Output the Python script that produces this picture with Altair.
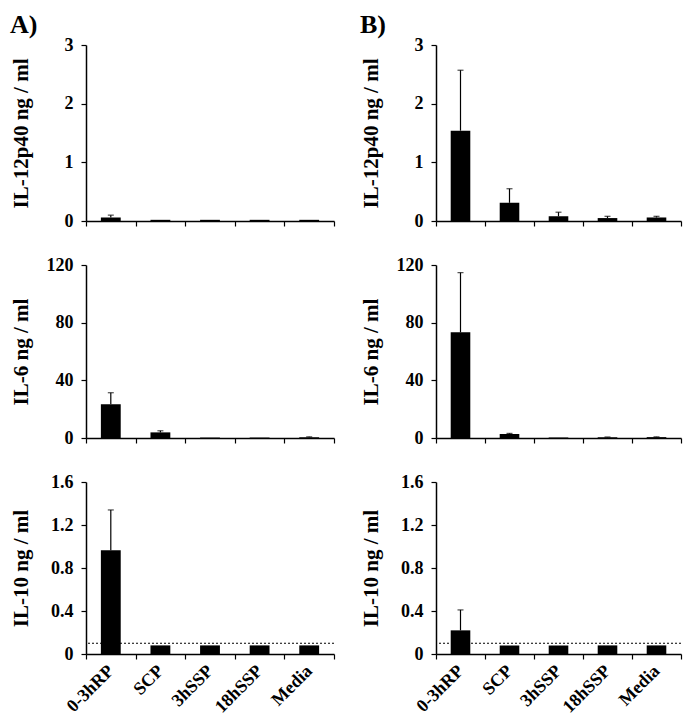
import altair as alt
import pandas as pd

categories = ["0-3hRP", "SCP", "3hSSP", "18hSSP", "Media"]

a_il12_mean = [0.06, 0.02, 0.02, 0.02, 0.02]
a_il12_err = [0.04, 0, 0, 0, 0]
b_il12_mean = [1.54, 0.31, 0.08, 0.05, 0.06]
b_il12_err = [1.03, 0.24, 0.07, 0.03, 0.02]

a_il6_mean = [23.4, 3.9, 0.3, 0.3, 0.5]
a_il6_err = [8.0, 1.1, 0, 0, 0.3]
b_il6_mean = [73.3, 2.8, 0.3, 0.5, 0.6]
b_il6_err = [41.4, 0.4, 0, 0.2, 0.2]

a_il10_mean = [0.965, 0.08, 0.08, 0.08, 0.08]
a_il10_err = [0.375, 0, 0, 0, 0]
b_il10_mean = [0.22, 0.08, 0.08, 0.08, 0.08]
b_il10_err = [0.19, 0, 0, 0, 0]

il10_limit = [0.1]

y_titles = ["IL-12p40 ng / ml", "IL-6 ng / ml", "IL-10 ng / ml"]
y_ticks = [[0, 1, 2, 3], [0, 40, 80, 120], [0, 0.4, 0.8, 1.2, 1.6]]
panel_labels = ["A)", "B)"]

FONT = "Liberation Serif"
ROW_H = [176, 173, 172]
COL_W = [248, 245]


def panel(mean, err, ytitle, ticks, height, width, show_x, limit=None, title=None):
    df = pd.DataFrame({"cat": categories, "mean": mean, "err": err})
    df["upper"] = df["mean"] + df["err"]
    base = alt.Chart(df)
    x = alt.X(
        "cat:N",
        sort=categories,
        scale=alt.Scale(paddingInner=0, paddingOuter=0),
        axis=alt.Axis(
            title=None,
            labels=show_x,
            labelAngle=-45,
            labelAlign="right",
            labelBaseline="middle",
            labelPadding=9,
            labelFontSize=18,
            tickBand="extent",
            tickSize=5,
        ),
    )
    y = alt.Y(
        "mean:Q",
        scale=alt.Scale(domain=[ticks[0], ticks[-1]], nice=False, zero=True),
        axis=alt.Axis(
            values=ticks,
            title=ytitle,
            titleX=-59,
            titleY=height / 2,
            titleAngle=270,
            titleAlign="center",
            titleBaseline="alphabetic",
            labelExpr="datum.value == 0 ? '0' : format(datum.value, '~g')",
            tickSize=5,
            labelPadding=8,
        ),
    )
    bars = base.mark_bar(color="black", width=alt.RelativeBandSize(0.4)).encode(x=x, y=y)
    eb = base.transform_filter("datum.err > 0")
    rules = eb.mark_rule(color="black", strokeWidth=1.2).encode(
        x=alt.X("cat:N", sort=categories), y="mean:Q", y2="upper:Q"
    )
    caps = eb.mark_tick(color="black", size=6, thickness=1.2, orient="horizontal").encode(
        x=alt.X("cat:N", sort=categories), y="upper:Q"
    )
    layers = [bars, rules, caps]
    if limit is not None:
        ldf = pd.DataFrame({"limit": limit})
        line = alt.Chart(ldf).mark_rule(color="black", strokeWidth=1, strokeDash=[2, 2]).encode(
            y="limit:Q"
        )
        layers.append(line)
    ch = alt.layer(*layers).properties(width=width, height=height)
    if title is not None:
        ch = ch.properties(
            title=alt.TitleParams(
                text=title,
                anchor="start",
                frame="bounds",
                font=FONT,
                fontSize=26,
                fontWeight="bold",
                color="black",
                offset=-2,
            )
        )
    return ch


panels = [
    panel(a_il12_mean, a_il12_err, y_titles[0], y_ticks[0], ROW_H[0], COL_W[0], False, title=panel_labels[0]),
    panel(b_il12_mean, b_il12_err, y_titles[0], y_ticks[0], ROW_H[0], COL_W[1], False, title=panel_labels[1]),
    panel(a_il6_mean, a_il6_err, y_titles[1], y_ticks[1], ROW_H[1], COL_W[0], False),
    panel(b_il6_mean, b_il6_err, y_titles[1], y_ticks[1], ROW_H[1], COL_W[1], False),
    panel(a_il10_mean, a_il10_err, y_titles[2], y_ticks[2], ROW_H[2], COL_W[0], True, limit=il10_limit),
    panel(b_il10_mean, b_il10_err, y_titles[2], y_ticks[2], ROW_H[2], COL_W[1], True, limit=il10_limit),
]

chart = (
    alt.concat(*panels, columns=2, spacing={"row": 26, "column": 25}, align="each")
    .properties(padding={"left": 2, "top": 4, "right": 4, "bottom": 2})
    .configure_view(stroke=None)
    .configure_axis(
        grid=False,
        domainColor="black",
        domainWidth=1.5,
        tickColor="black",
        tickWidth=1.2,
        labelFont=FONT,
        labelFontSize=18,
        labelFontWeight="bold",
        labelColor="black",
        titleFont=FONT,
        titleFontSize=21,
        titleFontWeight="bold",
        titleColor="black",
    )
)

chart.save("out.html", embed_options={"renderer": "svg", "actions": False})
